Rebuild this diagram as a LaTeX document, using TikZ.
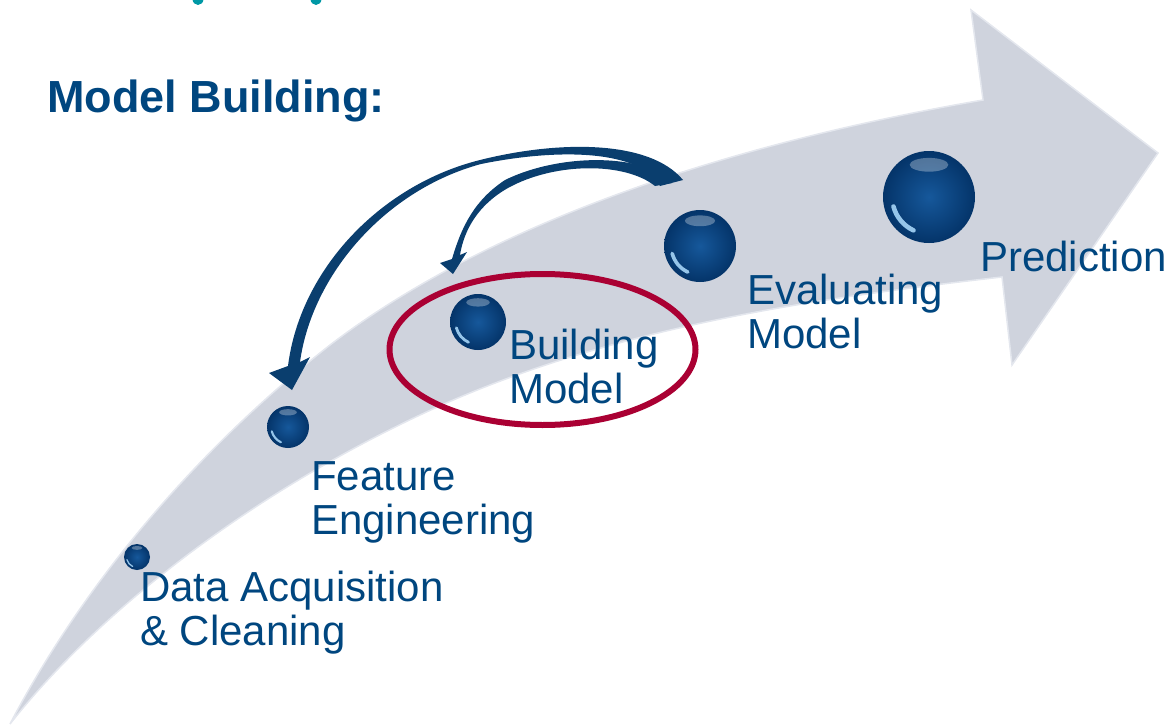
\documentclass[tikz,border=0pt]{standalone}
\usepackage{fontspec}
\setmainfont{Liberation Sans}
\usetikzlibrary{calc}
\definecolor{txtblue}{RGB}{0,70,127}
\definecolor{bandgray}{RGB}{207,211,221}
\definecolor{bandedge}{RGB}{228,231,238}
\definecolor{navy}{RGB}{10,62,110}
\definecolor{ovalred}{RGB}{170,0,51}
\definecolor{tealc}{RGB}{0,152,165}
\definecolor{orbdark}{RGB}{4,52,105}
\definecolor{orbmid}{RGB}{22,88,155}
\definecolor{orbglow}{RGB}{175,222,255}
\newcommand\orbball[4]{% name x y r
  \shade[inner color=orbmid, outer color=orbdark] (#2,#3) circle (#4);
  \fill[white,opacity=0.3] (#2,#3-0.7*#4) ellipse ({0.42*#4} and {0.15*#4});
  \draw[orbglow, line width={0.1*#4}, opacity=0.85, line cap=round]
    ($(#2,#3)+(115:{0.8*#4})$) arc[start angle=115,end angle=165,radius={0.8*#4}];
  \coordinate (#1) at (#2,#3);
}
\begin{document}
\begin{tikzpicture}[x=1pt,y=-1pt,
  lbl/.style={font=\fontsize{42}{44}\selectfont, text=txtblue, align=left, anchor=base west, inner sep=0pt},
  ttl/.style={font=\fontsize{45}{48}\selectfont\bfseries, text=txtblue, anchor=base west, inner sep=0pt},
  band/.style={fill=bandgray, draw=bandedge, line width=1.5pt},
  loop/.style={fill=navy}]
\useasboundingbox (0,0) rectangle (1173,725);
% cut-off teal letters at top
\fill[tealc] (198,-1) ellipse (5.5 and 6);
\fill[tealc] (316,-1) ellipse (5.5 and 6);
% big curved arrow band
\path[band] (10,724) .. controls (80,590) and (190,455) .. (330,345)
  .. controls (500,215) and (750,140) .. (983,100) -- (971,10) -- (1158,153)
  -- (1012,365) -- (1002,277) .. controls (800,300) and (600,330) .. (420,415)
  .. controls (250,495) and (100,610) .. (10,724) -- cycle;
% feedback arrows
\fill[loop] (683,180) .. controls (650,140) and (560,140) .. (480,160)
  .. controls (380,185) and (300,270) .. (288,366) -- (269,373) -- (292,390)
  -- (310,357) -- (300,362) .. controls (312,275) and (385,190) .. (481,164)
  .. controls (560,148) and (640,150) .. (660,186) -- cycle;
\fill[loop] (672,183) .. controls (645,153) and (560,153) .. (505,180)
  .. controls (475,200) and (462,225) .. (452,259) -- (440,263) -- (453,274)
  -- (467,252) -- (460,255) .. controls (464,230) and (478,205) .. (508,188)
  .. controls (555,162) and (625,162) .. (655,186) -- cycle;
% spheres
\orbball{o1}{137}{557}{13}
\orbball{o2}{288}{427}{21}
\orbball{o3}{478}{322}{28}
\orbball{o4}{700}{246}{36}
\orbball{o5}{929}{197}{46}
% highlight oval
\draw[ovalred, line width=6pt] (542.5,349.5) ellipse (153 and 75.5);
% labels (anchor = baseline of last line)
\node[ttl] (title) at (47,113) {Model Building:};
\node[lbl] (pred) at (980,271) {Prediction};
\node[lbl] (eval) at (747,348) {Evaluating\\Model};
\node[lbl] (build) at (509,403) {Building\\Model};
\node[lbl] (feat) at (311,534) {Feature\\Engineering};
\node[lbl] (data) at (140,645) {Data Acquisition\\\& Cleaning};
\end{tikzpicture}
\end{document}
